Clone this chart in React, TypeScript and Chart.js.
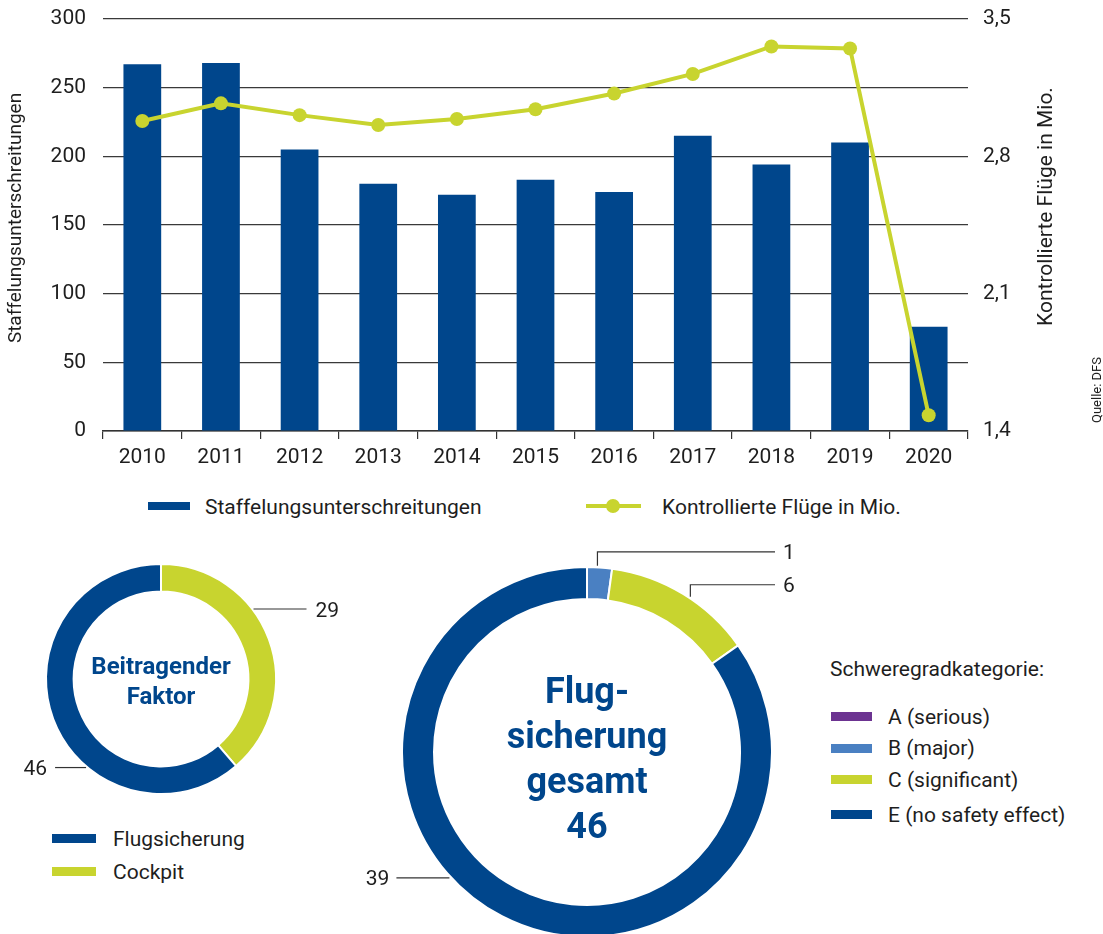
import React, { useEffect, useRef } from 'react';
import { Chart, registerables } from 'chart.js';

Chart.register(...registerables);

// ---------- colours / fonts ----------
const BLUE = '#00468c';
const GREEN = '#c8d42f';
const LIGHT_BLUE = '#4a80c2';
const PURPLE = '#6c3391';
const TEXT = '#1e1e1e';
const LINE = '#333333';
const FONT = 'Roboto, "Noto Sans", sans-serif';

// ---------- data ----------
const years = ['2010', '2011', '2012', '2013', '2014', '2015', '2016', '2017', '2018', '2019', '2020'];
const separations = [267, 268, 205, 180, 172, 183, 174, 215, 194, 210, 76];
const flights = [2.98, 3.07, 3.01, 2.96, 2.99, 3.04, 3.12, 3.22, 3.36, 3.35, 1.48];
const barLabel = 'Staffelungsunterschreitungen';
const lineLabel = 'Kontrollierte Flüge in Mio.';
const leftAxis = { min: 0, max: 300, step: 50 };
const rightAxis = { min: 1.4, max: 3.5, count: 4 };

const factorLabels = ['Cockpit', 'Flugsicherung'];
const factorValues = [29, 46];
const factorColors = [GREEN, BLUE];
const factorCenter = ['Beitragender', 'Faktor'];

const severityLabels = ['A (serious)', 'B (major)', 'C (significant)', 'E (no safety effect)'];
const severityValues = [0, 1, 6, 39];
const severityColors = [PURPLE, LIGHT_BLUE, GREEN, BLUE];
const severityTitle = 'Schweregradkategorie:';
const severityCenter = ['Flug-', 'sicherung', 'gesamt', '46'];

const sourceText = 'Quelle: DFS';

// ---------- plugins ----------
const axisTitlePlugin = {
  id: 'axisTitles',
  afterDraw(chart: any, _args: any, opts: any) {
    const { ctx, chartArea } = chart;
    const cy = (chartArea.top + chartArea.bottom) / 2;
    ctx.save();
    ctx.fillStyle = TEXT;
    ctx.textAlign = 'center';
    ctx.textBaseline = 'alphabetic';
    for (const t of opts.items) {
      ctx.save();
      ctx.font = `${t.size}px ${FONT}`;
      ctx.translate(t.x, cy + t.dy);
      ctx.rotate(-Math.PI / 2);
      ctx.fillText(t.text, 0, 0);
      ctx.restore();
    }
    ctx.restore();
  },
};

const centerTextPlugin = {
  id: 'centerText',
  afterDraw(chart: any, _args: any, opts: any) {
    const arc = chart.getDatasetMeta(0).data[0];
    if (!arc) return;
    const { x, y } = arc.getProps(['x', 'y'], true);
    const ctx = chart.ctx;
    ctx.save();
    ctx.font = `bold ${opts.size}px ${FONT}`;
    ctx.fillStyle = BLUE;
    ctx.textAlign = 'center';
    ctx.textBaseline = 'alphabetic';
    opts.lines.forEach((line: string, i: number) => {
      const capCenter = y + opts.first + i * opts.gap;
      ctx.fillText(line, x, capCenter + 0.711 * opts.size / 2);
    });
    ctx.restore();
  },
};

const leaderPlugin = {
  id: 'leaders',
  afterDraw(chart: any, _args: any, opts: any) {
    const meta = chart.getDatasetMeta(0);
    const data = chart.data.datasets[0].data;
    const ctx = chart.ctx;
    ctx.save();
    ctx.strokeStyle = LINE;
    ctx.lineWidth = 1.2;
    ctx.fillStyle = TEXT;
    ctx.font = `21px ${FONT}`;
    ctx.textBaseline = 'alphabetic';
    for (const item of opts.items) {
      const arc = meta.data[item.index];
      const p = arc.getProps(['x', 'y', 'startAngle', 'endAngle', 'outerRadius'], true);
      const a = p.startAngle + item.frac * (p.endAngle - p.startAngle);
      const r = p.outerRadius + item.gap;
      const ax = p.x + r * Math.cos(a);
      const ay = p.y + r * Math.sin(a);
      let ex = ax;
      let ey = ay;
      ctx.beginPath();
      ctx.moveTo(ax, ay);
      if (item.kind === 'h') {
        ex = ax + item.dir * item.len;
        ctx.lineTo(ex, ey);
      } else {
        ey = ay - item.rise;
        ctx.lineTo(ax, ey);
        ex = p.x + item.reach;
        ctx.lineTo(ex, ey);
      }
      ctx.stroke();
      ctx.textAlign = item.dir > 0 ? 'left' : 'right';
      ctx.fillText(String(data[item.index]), ex + item.dir * item.textGap, ey + 7.5);
    }
    ctx.restore();
  },
};

// ---------- top combo chart ----------
function TopChart() {
  const ref = useRef<HTMLCanvasElement>(null);
  useEffect(() => {
    const tickFont = { size: 21, family: FONT };
    const fitVertical = (w: number) => (s: any) => {
      s.width = w;
      s.paddingTop = 0;
      s.paddingBottom = 0;
    };
    const chart = new Chart(ref.current as HTMLCanvasElement, {
      type: 'bar',
      data: {
        labels: years,
        datasets: [
          {
            type: 'line',
            label: lineLabel,
            data: flights,
            yAxisID: 'y1',
            borderColor: GREEN,
            backgroundColor: GREEN,
            borderWidth: 4,
            pointRadius: 7,
            pointHoverRadius: 7,
            pointBackgroundColor: GREEN,
            pointBorderWidth: 0,
            tension: 0,
            order: 0,
            clip: false,
          } as any,
          {
            type: 'bar',
            label: barLabel,
            data: separations,
            yAxisID: 'y',
            backgroundColor: BLUE,
            barPercentage: 0.48,
            categoryPercentage: 1,
            order: 1,
          } as any,
        ],
      },
      options: {
        responsive: false,
        animation: false,
        layout: { padding: { top: 19, right: 55, left: 0, bottom: 0 } },
        plugins: {
          legend: { display: false },
          tooltip: { enabled: false },
          axisTitles: {
            items: [
              { text: barLabel, x: 21, dy: -7, size: 19 },
              { text: lineLabel, x: 1052, dy: -18.5, size: 21 },
            ],
          },
        } as any,
        scales: {
          x: {
            grid: { display: true, drawOnChartArea: false, drawTicks: true, tickLength: 8, offset: true, color: LINE, lineWidth: 1.2 },
            border: { display: true, color: LINE, width: 1.5 },
            ticks: { padding: 6, color: TEXT, font: tickFont, autoSkip: false, maxRotation: 0 },
            afterFit: (s: any) => { s.height = 44; },
          },
          y: {
            position: 'left',
            min: leftAxis.min,
            max: leftAxis.max,
            ticks: { stepSize: leftAxis.step, padding: 17, color: TEXT, font: tickFont },
            grid: { color: '#3a3a3a', lineWidth: 1.2, drawTicks: false },
            border: { display: false },
            afterFit: fitVertical(103),
          },
          y1: {
            position: 'right',
            min: rightAxis.min,
            max: rightAxis.max,
            ticks: {
              count: rightAxis.count,
              padding: 15,
              color: TEXT,
              font: tickFont,
              callback: (v: any) => Number(v).toFixed(1).replace('.', ','),
            },
            grid: { drawOnChartArea: false, drawTicks: false },
            border: { display: false },
            afterFit: fitVertical(80),
          },
        } as any,
      },
      plugins: [axisTitlePlugin],
    });
    return () => chart.destroy();
  }, []);
  return <canvas ref={ref} width={1103} height={475} style={{ position: 'absolute', left: 0, top: 0 }} />;
}

// ---------- doughnut ----------
function Doughnut(props: any) {
  const ref = useRef<HTMLCanvasElement>(null);
  useEffect(() => {
    const chart = new Chart(ref.current as HTMLCanvasElement, {
      type: 'doughnut',
      data: {
        labels: props.labels,
        datasets: [
          {
            data: props.values,
            backgroundColor: props.colors,
            borderColor: '#ffffff',
            borderWidth: 2,
            hoverOffset: 0,
          },
        ],
      },
      options: {
        responsive: false,
        animation: false,
        cutout: props.cutout,
        layout: { padding: props.padding },
        plugins: {
          legend: { display: false },
          tooltip: { enabled: false },
          centerText: props.center,
          leaders: { items: props.leaders },
        } as any,
      },
      plugins: [centerTextPlugin, leaderPlugin],
    });
    return () => chart.destroy();
  }, []);
  return (
    <canvas
      ref={ref}
      width={props.width}
      height={props.height}
      style={{ position: 'absolute', left: props.left, top: props.top }}
    />
  );
}

// ---------- html helpers ----------
const textStyle: React.CSSProperties = {
  position: 'absolute',
  fontFamily: FONT,
  fontSize: 21,
  lineHeight: '26px',
  color: TEXT,
  whiteSpace: 'nowrap',
};

function Label({ left, cy, children }: any) {
  return <div style={{ ...textStyle, left, top: cy - 13 }}>{children}</div>;
}

function Swatch({ left, cy, w, h, color }: any) {
  return <div style={{ position: 'absolute', left, top: cy - h / 2, width: w, height: h, background: color }} />;
}

export default function App() {
  const factorLegendOrder = [1, 0];
  const factorLegendRows = [839, 872];
  const severityRows = [716.5, 748, 779.5, 814.5];
  return (
    <div
      style={{
        position: 'absolute',
        left: 0,
        top: 0,
        width: 1103,
        height: 934,
        overflow: 'hidden',
        background: '#ffffff',
        fontFamily: FONT,
      }}
    >
      <TopChart />

      {/* top legend */}
      <Swatch left={148} cy={506} w={42} h={8} color={BLUE} />
      <Label left={205} cy={507}>{barLabel}</Label>
      <div style={{ position: 'absolute', left: 586, top: 504, width: 55, height: 4, background: GREEN }} />
      <div style={{ position: 'absolute', left: 606, top: 499, width: 14, height: 14, borderRadius: '50%', background: GREEN }} />
      <Label left={662} cy={507}>{lineLabel}</Label>

      {/* source */}
      <div
        style={{
          position: 'absolute',
          left: 1047,
          top: 383,
          width: 100,
          height: 14,
          lineHeight: '14px',
          fontSize: 13,
          fontFamily: FONT,
          color: TEXT,
          textAlign: 'center',
          whiteSpace: 'nowrap',
          transform: 'rotate(-90deg)',
        }}
      >
        {sourceText}
      </div>

      {/* doughnut 1 */}
      <Doughnut
        left={0}
        top={540}
        width={380}
        height={280}
        padding={{ left: 45, right: 103, top: 23, bottom: 25 }}
        cutout="76%"
        labels={factorLabels}
        values={factorValues}
        colors={factorColors}
        center={{ lines: factorCenter, size: 24, first: -13.5, gap: 29.5 }}
        leaders={[
          { index: 0, frac: 0.38, gap: 1, kind: 'h', dir: 1, len: 53, textGap: 9 },
          { index: 1, frac: 0.367, gap: 1, kind: 'h', dir: -1, len: 31, textGap: 8 },
        ]}
      />
      {factorLegendOrder.map((idx, i) => (
        <React.Fragment key={factorLabels[idx]}>
          <Swatch left={52} cy={factorLegendRows[i] - 0.5} w={44} h={9} color={factorColors[idx]} />
          <Label left={113} cy={factorLegendRows[i]}>{factorLabels[idx]}</Label>
        </React.Fragment>
      ))}

      {/* doughnut 2 */}
      <Doughnut
        left={340}
        top={540}
        width={480}
        height={400}
        padding={{ left: 61, right: 47, top: 26, bottom: 2 }}
        cutout="82.7%"
        labels={severityLabels}
        values={severityValues}
        colors={severityColors}
        center={{ lines: severityCenter, size: 36, first: -61.5, gap: 45 }}
        leaders={[
          { index: 1, frac: 0.41, gap: 1.5, kind: 'v', dir: 1, rise: 14, reach: 188, textGap: 8 },
          { index: 2, frac: 0.55, gap: 1.5, kind: 'v', dir: 1, rise: 12, reach: 188, textGap: 8 },
          { index: 3, frac: 0.566, gap: 1.5, kind: 'h', dir: -1, len: 53, textGap: 7 },
        ]}
      />

      {/* severity legend */}
      <Label left={830} cy={669}>{severityTitle}</Label>
      {severityLabels.map((lab, i) => (
        <React.Fragment key={lab}>
          <Swatch left={831} cy={severityRows[i]} w={41} h={9} color={severityColors[i]} />
          <Label left={888} cy={severityRows[i]}>{lab}</Label>
        </React.Fragment>
      ))}
    </div>
  );
}
